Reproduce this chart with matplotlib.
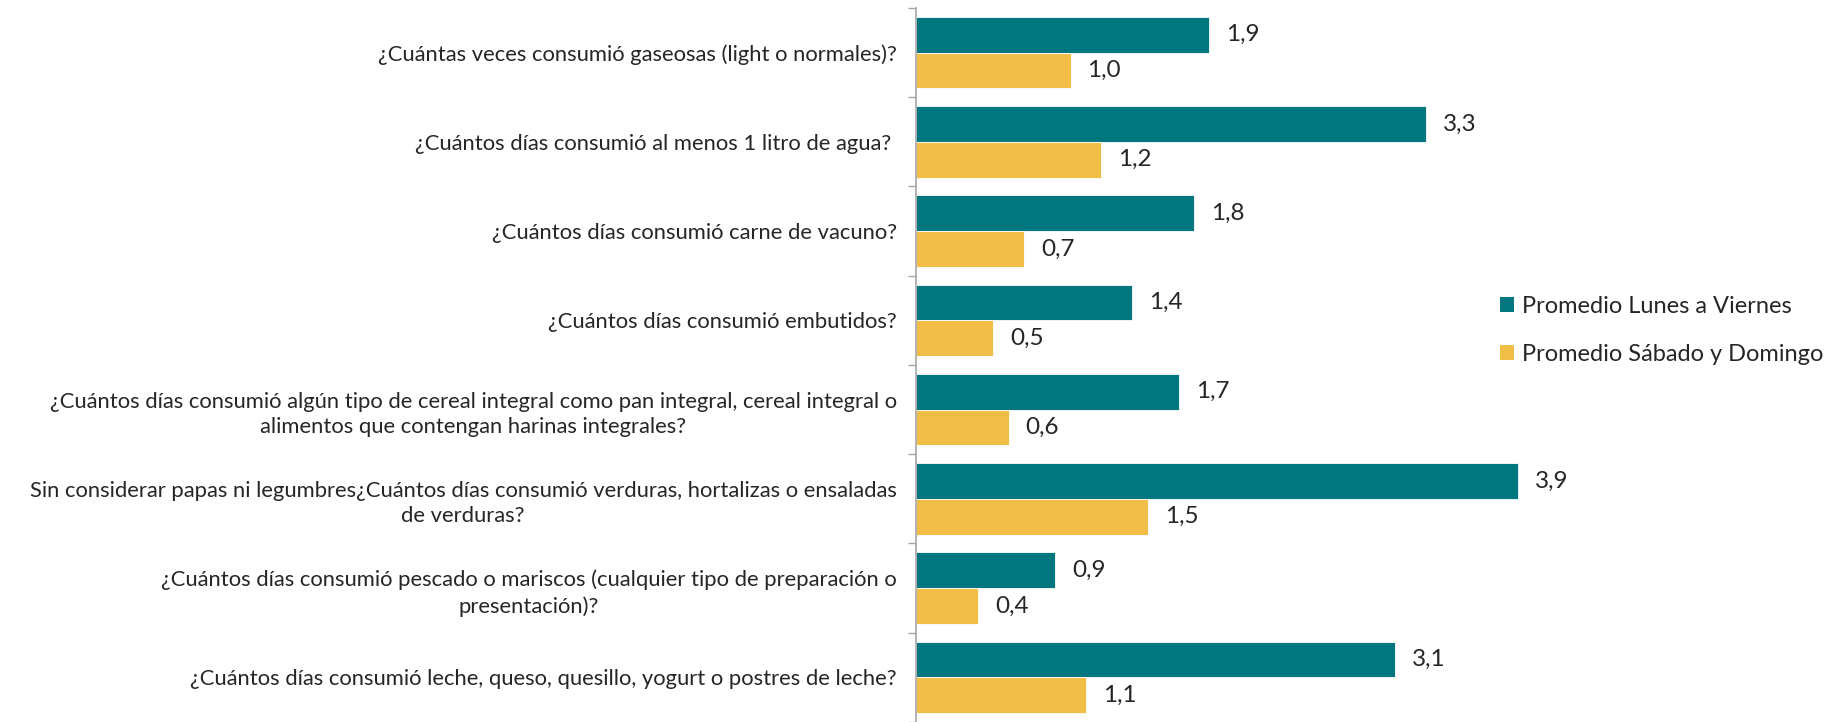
import matplotlib
matplotlib.use("Agg")
from matplotlib import pyplot as plt
from matplotlib.patches import Patch
import numpy as np

plt.rcParams['font.family'] = ['Lato', 'DejaVu Sans']

categories = [
    "¿Cuántas veces consumió gaseosas (light o normales)?",
    "¿Cuántos días consumió al menos 1 litro de agua? ",
    "¿Cuántos días consumió carne de vacuno?",
    "¿Cuántos días consumió embutidos?",
    "¿Cuántos días consumió algún tipo de cereal integral como pan integral, cereal integral o\nalimentos que contengan harinas integrales?",
    "Sin considerar papas ni legumbres¿Cuántos días consumió verduras, hortalizas o ensaladas\nde verduras?",
    "¿Cuántos días consumió pescado o mariscos (cualquier tipo de preparación o\npresentación)?",
    "¿Cuántos días consumió leche, queso, quesillo, yogurt o postres de leche?",
]
lunes_viernes = [1.9, 3.3, 1.8, 1.4, 1.7, 3.9, 0.9, 3.1]
sabado_domingo = [1.0, 1.2, 0.7, 0.5, 0.6, 1.5, 0.4, 1.1]
series_names = ["Promedio Lunes a Viernes", "Promedio Sábado y Domingo"]

TEAL = "#00767F"
GOLD = "#F1BE48"


def fmt(v):
    return f"{v:.1f}".replace(".", ",")


fig = plt.figure(figsize=(18.37, 7.22), dpi=100)
ax = fig.add_axes([0.4987, 0.0, 0.49, 0.989])

y = np.arange(len(categories))
h = 0.4
b1 = ax.barh(y - h / 2, lunes_viernes, height=h, color=TEAL, edgecolor="white", linewidth=0.6)
b2 = ax.barh(y + h / 2, sabado_domingo, height=h, color=GOLD, edgecolor="white", linewidth=0.6)

for bars, vals in [(b1, lunes_viernes), (b2, sabado_domingo)]:
    for bar, v in zip(bars, vals):
        ax.text(bar.get_width() + 0.11, bar.get_y() + bar.get_height() / 2, fmt(v),
                va="center", ha="left", fontsize=17.5, color="#262626")

ax.set_ylim(len(categories) - 0.5, -0.5)
ax.set_xlim(0, 5.83)

ax.set_yticks(y)
ax.set_yticklabels(categories, fontsize=15.8, color="#262626",
                   multialignment="center", linespacing=1.35)
ax.tick_params(axis="y", which="major", length=0, pad=14)
ax.set_yticks(np.arange(len(categories) + 1) - 0.5, minor=True)
ax.tick_params(axis="y", which="minor", length=6, width=1, color="#A6A6A6")
ax.set_xticks([])

for s in ["top", "right", "bottom"]:
    ax.spines[s].set_visible(False)
ax.spines["left"].set_color("#A6A6A6")
ax.spines["left"].set_linewidth(1.2)

handles = [Patch(facecolor=TEAL), Patch(facecolor=GOLD)]
fig.legend(handles, series_names, loc="center left", bbox_to_anchor=(0.805, 0.542),
           frameon=False, fontsize=17, handlelength=0.6, handleheight=0.6,
           handletextpad=0.35, labelspacing=1.15, labelcolor="#262626")

fig.savefig("out.png", dpi=100)
